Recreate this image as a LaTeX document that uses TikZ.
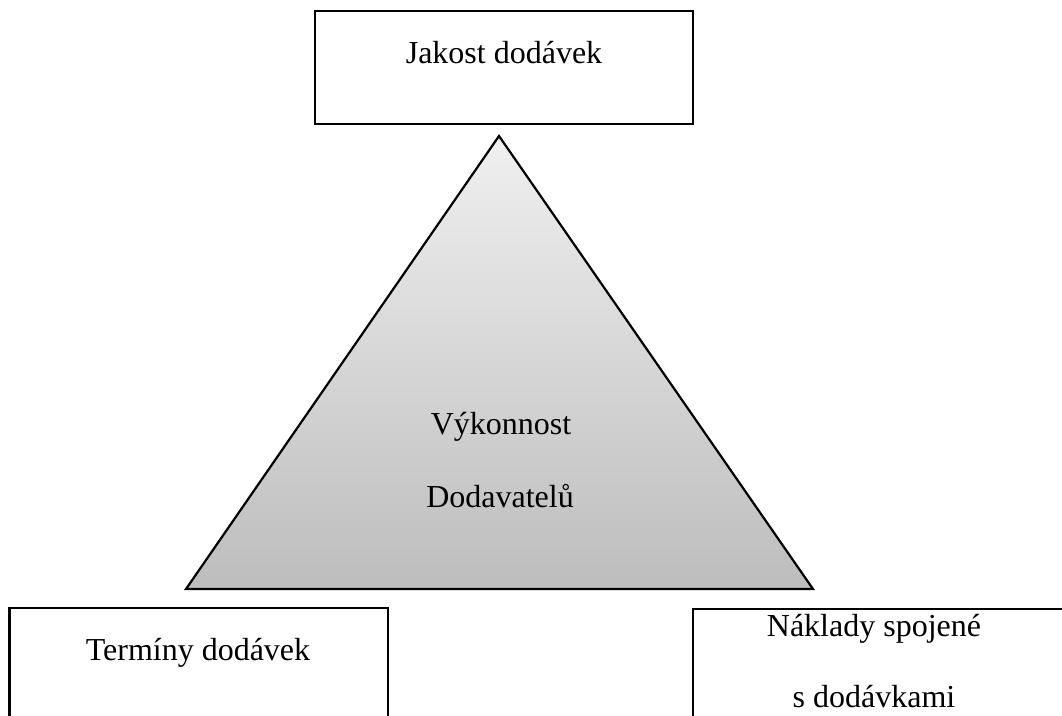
\documentclass[tikz,border=0pt]{standalone}
\usepackage{fontspec}
\setmainfont{Liberation Serif}
\begin{document}
\begin{tikzpicture}[x=1pt,y=-1pt,
  boxline/.style={draw=black,line width=2.2pt},
  label/.style={font=\fontsize{32}{72}\selectfont,anchor=base,inner sep=0pt}]
\useasboundingbox (0,0) rectangle (1062,715);
\clip (0,0) rectangle (1062,715);
% pyramid with vertical grey shading
\coordinate (apex) at (499,136);
\coordinate (bl) at (186,589);
\coordinate (br) at (813,589);
\shade[top color=black!6,bottom color=black!26] (apex) -- (bl) -- (br) -- cycle;
\draw[line width=2.2pt,line join=miter] (apex) -- (bl) -- (br) -- cycle;
% boxes
\draw[boxline] (315,11) rectangle (693,124);
\draw[boxline] (9.5,608) rectangle (388,760);
\draw[boxline] (693,609) rectangle (1100,760);
% labels
\node[label] (quality) at (504,63) {Jakost dodávek};
\node[label] (perf1) at (501,434) {Výkonnost};
\node[label] (perf2) at (500,507) {Dodavatelů};
\node[label] (terms) at (198,660) {Termíny dodávek};
\node[label] (cost1) at (874,636) {Náklady spojené};
\node[label] (cost2) at (874,707) {s dodávkami};
\end{tikzpicture}
\end{document}
